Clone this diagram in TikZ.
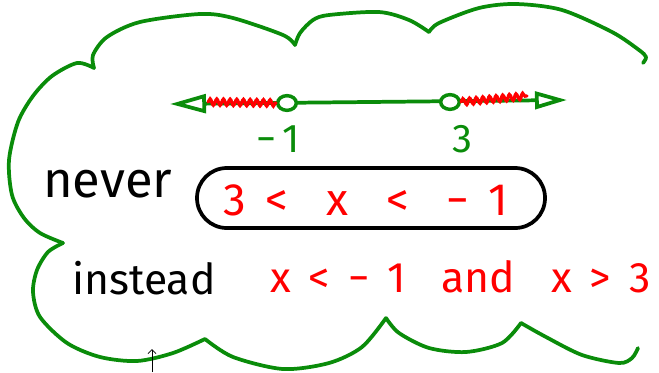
\documentclass[tikz,border=0pt]{standalone}
\usepackage{fontspec}
\setmainfont{Fira Sans}
\usetikzlibrary{arrows.meta, positioning, shapes.geometric, decorations.pathmorphing}
\definecolor{cloudgreen}{RGB}{10,140,10}
\newcommand{\hgap}{\hspace{0.42em}}

\begin{document}
\begin{tikzpicture}[
    x=0.75pt, y=-0.75pt,
    cloud/.style={draw=cloudgreen, line width=2.8pt, line cap=round, line join=round},
    numline/.style={draw=cloudgreen, line width=2.8pt,
                    {Triangle[open, length=27pt, width=14pt]}-{Triangle[open, length=24pt, width=13pt]}},
    opendot/.style={ellipse, draw=cloudgreen, line width=2.6pt, fill=white,
                    minimum width=14pt, minimum height=11pt, inner sep=0pt},
    squiggle/.style={draw=red, line width=2.4pt, line cap=round, decorate,
                     decoration={snake, segment length=5pt, amplitude=2.4pt}},
    word/.style={font=\fontsize{32}{36}\selectfont, inner sep=0pt},
    tick/.style={font=\fontsize{30}{34}\selectfont, text=cloudgreen, inner sep=0pt, anchor=base},
  ]
  \useasboundingbox (0,0) rectangle (659,372);

  % --- the cloud, open on the right ---
  \draw[cloud] plot[smooth] coordinates {(643,63) (646,57) (639,50) (612,32) (562,10) (516,4) (479,8) (439,23) (429,32)};
  \draw[cloud] plot[smooth] coordinates {(429,32) (409,20) (379,12) (329,15) (313,20) (300,33) (295,45)};
  \draw[cloud] plot[smooth] coordinates {(295,45) (283,35) (233,18) (200,14) (140,22) (107,37) (93,55) (94,68)};
  \draw[cloud] plot[smooth] coordinates {(94,68) (77,63) (52,76) (33,96) (18,122) (9,160) (12,195) (24,218) (40,233) (63,243)};
  \draw[cloud] plot[smooth] coordinates {(63,243) (48,252) (37,270) (33,292) (40,317) (67,343) (100,357) (137,361) (173,353) (205,339)};
  \draw[cloud] plot[smooth] coordinates {(205,339) (233,357) (283,369) (329,363) (362,347) (386,318)};
  \draw[cloud] plot[smooth] coordinates {(386,318) (399,333) (429,348) (466,352) (502,343) (521,323)};
  \draw[cloud] plot[smooth] coordinates {(521,323) (546,337) (582,355) (619,363) (632,358) (638,348)};

  % --- number line ---
  \coordinate (lefttip) at (170,104);
  \coordinate (righttip) at (567,100);
  \draw[numline] (lefttip) -- (righttip);
  \node[opendot] (minusone) at (287,103) {};
  \node[opendot] (three) at (450,102) {};
  \draw[squiggle] (208,102) -- (minusone.west);
  \draw[squiggle] (three.east) -- (527,96);
  \node[tick] (lblminus) at (278,152) {−\,1};
  \node[tick] (lblthree) at (462,152) {3};

  % --- never ---
  \node[word, font=\fontsize{38}{40}\selectfont, anchor=base west] (never) at (43,197) {never};
  \node[draw, rounded corners=22.4pt, line width=2.8pt, minimum width=261pt, minimum height=45pt,
        inner sep=0pt] (neverbox) at (371,198) {};
  \node[word, font=\fontsize{34}{38}\selectfont, text=red, anchor=base] (neverexpr) at (366,215)
    {3\hgap<\hgap\hgap x\hgap\hgap<\hgap\hgap−\hgap1};

  % --- instead ---
  \node[word, anchor=base west] (instead) at (72,294) {instead};
  \node[word, text=red, anchor=base west] (insteadexpr) at (270,292)
    {x\hgap<\hgap−\hgap1\hgap\hgap and\hgap\hgap x\hgap>\hgap3};

  % cursor
  \draw[-{Straight Barb[length=3pt]}, line width=0.6pt] (152,372) -- (152,349);
\end{tikzpicture}
\end{document}
